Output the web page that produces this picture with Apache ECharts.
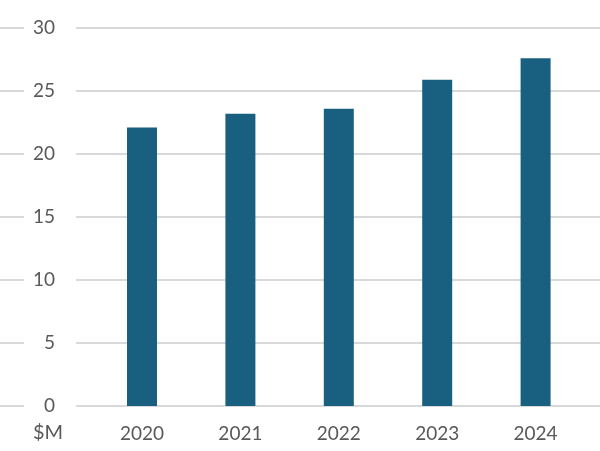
<!DOCTYPE html>
<html>
<head>
<meta charset="utf-8">
<script src="https://cdn.jsdelivr.net/npm/echarts@6/dist/echarts.min.js"></script>
<style>html,body{margin:0;padding:0;background:#fff;}#c{width:600px;height:451px;}</style>
</head>
<body>
<div id="c"></div>
<script>
var categories = ['2020', '2021', '2022', '2023', '2024'];
var revenue = [22.1, 23.2, 23.6, 25.9, 27.6];
var unitLabel = '$M';
var yMin = 0, yMax = 30, yStep = 5;

(function () {
var chart = echarts.init(document.getElementById('c'), null, {renderer: 'canvas'});
var font = 'Lato, "Noto Sans", sans-serif';
var gridLine = {show: true, lineStyle: {color: '#d9d9d9', width: 2}};
var gTop = 28, gBottom = 451 - 406;
chart.setOption({
  animation: false,
  title: {text: unitLabel, left: 28, top: 418, textStyle: {fontFamily: font, fontSize: 20, fontWeight: 'normal', color: '#595959'}},
  grid: [
    {left: 0, width: 24, top: gTop, bottom: gBottom},
    {left: 76, right: 0, top: gTop, bottom: gBottom},
    {left: 92.8, right: 15.2, top: gTop, bottom: gBottom}
  ],
  xAxis: [
    {gridIndex: 0, type: 'value', show: false},
    {gridIndex: 1, type: 'value', show: false},
    {gridIndex: 2, type: 'category', data: categories,
     axisLine: {show: false}, axisTick: {show: false},
     axisLabel: {margin: 18, fontFamily: font, fontSize: 19, color: '#595959'}}
  ],
  yAxis: [
    {gridIndex: 0, type: 'value', min: yMin, max: yMax, interval: yStep,
     axisLine: {show: false}, axisTick: {show: false}, axisLabel: {show: false}, splitLine: gridLine},
    {gridIndex: 1, type: 'value', min: yMin, max: yMax, interval: yStep,
     axisLine: {show: false}, axisTick: {show: false},
     axisLabel: {margin: 21, fontFamily: font, fontSize: 19, color: '#595959'}, splitLine: gridLine},
    {gridIndex: 2, type: 'value', min: yMin, max: yMax, interval: yStep, show: false, splitLine: {show: false}}
  ],
  series: [{
    type: 'bar', xAxisIndex: 2, yAxisIndex: 2, data: revenue,
    barWidth: 30, itemStyle: {color: '#195f80'}
  }]
});
})();
</script>
</body>
</html>
